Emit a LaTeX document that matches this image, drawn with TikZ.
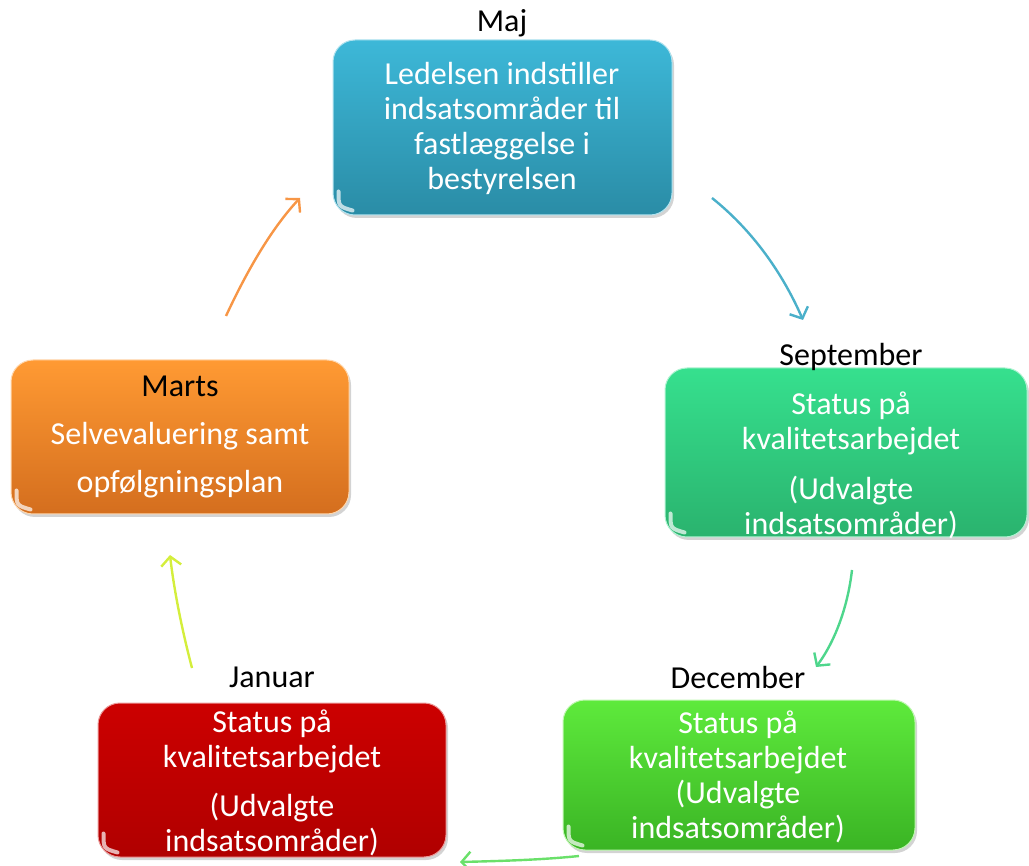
\documentclass[tikz,border=0pt]{standalone}
\usepackage{fontspec}
\setmainfont{Carlito}
\usetikzlibrary{arrows.meta,shadows}
\definecolor{majT}{HTML}{3DB8D8}
\definecolor{majB}{HTML}{2A8CA6}
\definecolor{sepT}{HTML}{36E08E}
\definecolor{sepB}{HTML}{2AB36E}
\definecolor{decT}{HTML}{5EEA3C}
\definecolor{decB}{HTML}{3AB424}
\definecolor{janT}{HTML}{CC0000}
\definecolor{janB}{HTML}{B00000}
\definecolor{marT}{HTML}{FF9A33}
\definecolor{marB}{HTML}{D46E1E}
\definecolor{arMaj}{HTML}{4BB0CA}
\definecolor{arSep}{HTML}{4ED68C}
\definecolor{arDec}{HTML}{6AE06A}
\definecolor{arJan}{HTML}{D4EE3C}
\definecolor{arMar}{HTML}{F79646}
\tikzset{
  box/.style={rounded corners=22pt, draw=white!60!#1T, line width=1pt,
    top color=#1T, bottom color=#1B,
    drop shadow={shadow xshift=2pt, shadow yshift=-3pt, opacity=0.35}},
  body/.style={text=white, align=center, font=\fontsize{32}{35}\selectfont},
  lbl/.style={text=black, font=\fontsize{32}{35}\selectfont},
  cyc/.style={line width=2.4pt, -{Straight Barb[length=9pt,width=20pt,line width=2.4pt]}},
  glare/.style={draw=white, line width=4pt, line cap=round, opacity=0.7}
}
\newcommand{\glareat}[1]{\draw[glare] ([xshift=6pt,yshift=24pt]#1.south west) .. controls ([xshift=6pt,yshift=9pt]#1.south west) .. ([xshift=20pt,yshift=5pt]#1.south west);}
\begin{document}
\begin{tikzpicture}[x=1pt,y=-1pt]
\useasboundingbox (0,0) rectangle (1029,866);
% boxes
\node[box=maj, minimum width=339pt, minimum height=175pt] (bmaj) at (502.5,127.5) {};
\node[box=sep, minimum width=362pt, minimum height=169pt] (bsep) at (846,452.5) {};
\node[box=dec, minimum width=352pt, minimum height=150pt] (bdec) at (739,775) {};
\node[box=jan, minimum width=348pt, minimum height=154pt] (bjan) at (272,780) {};
\node[box=mar, minimum width=338pt, minimum height=154pt] (bmar) at (180,437) {};
% glares
\glareat{bmaj}
\glareat{bsep}
\glareat{bdec}
\glareat{bjan}
\glareat{bmar}
% texts
\node[body] (tmaj) at (502,128) {Ledelsen indstiller\\indsatsområder til\\fastlæggelse i\\bestyrelsen};
\node[body] (tsep) at (851,465) {Status på\\kvalitetsarbejdet\\[15pt](Udvalgte\\indsatsområder)};
\node[body] (tdec) at (738,777) {Status på\\kvalitetsarbejdet\\(Udvalgte\\indsatsområder)};
\node[body] (tjan) at (272,783) {Status på\\kvalitetsarbejdet\\[14pt](Udvalgte\\indsatsområder)};
\node[body] (tmar) at (180,437) {{\color{black}Marts}\\[13pt]Selvevaluering samt\\[13pt]opfølgningsplan};
% month labels
\node[lbl] (lmaj) at (502,23) {Maj};
\node[lbl] (lsep) at (851,357) {September};
\node[lbl] (ldec) at (738,677) {December};
\node[lbl] (ljan) at (272,677) {Januar};
% arrow endpoints
\coordinate (a1) at (712,198); \coordinate (a2) at (803,320);
\coordinate (b1) at (852,570); \coordinate (b2) at (816,667);
\coordinate (c1) at (579,856); \coordinate (c2) at (460,862);
\coordinate (d1) at (192,668); \coordinate (d2) at (170,555);
\coordinate (e1) at (226,316); \coordinate (e2) at (300,198);
\draw[cyc, arMaj] (a1) .. controls (752,230) and (782,272) .. (a2);
\draw[cyc, arSep] (b1) .. controls (848,605) and (836,640) .. (b2);
\draw[cyc, arDec] (c1) .. controls (540,860) and (500,861) .. (c2);
\draw[cyc, arJan] (d1) .. controls (182,630) and (174,590) .. (d2);
\draw[cyc, arMar] (e1) .. controls (245,275) and (270,230) .. (e2);
\end{tikzpicture}
\end{document}
